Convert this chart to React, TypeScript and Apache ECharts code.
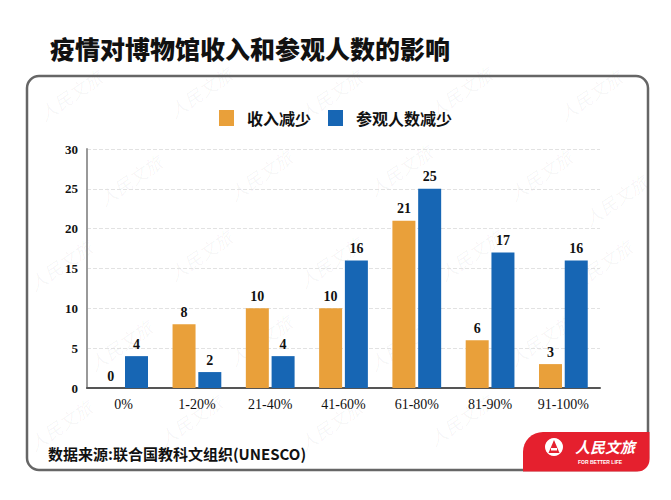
import React, { useEffect, useRef } from "react";
import * as echarts from "echarts";

const categories = ["0%", "1-20%", "21-40%", "41-60%", "61-80%", "81-90%", "91-100%"];
const revenueDecrease = [0, 8, 10, 10, 21, 6, 3];
const visitorDecrease = [4, 2, 4, 16, 25, 17, 16];
const seriesNames = ["收入减少", "参观人数减少"];
const titleText = "疫情对博物馆收入和参观人数的影响";
const sourceText = "数据来源:联合国教科文组织(UNESCO)";
const watermark = "人民文旅";

const ORANGE = "#E9A03A";
const BLUE = "#1766B4";
const SERIF = "Liberation Serif";
const CJK = "Noto Sans CJK SC";

const wmPositions: [number, number][] = [
  [70, 95], [200, 92], [330, 95], [460, 92], [590, 95],
  [130, 180], [260, 175], [400, 170], [540, 175], [615, 200],
  [60, 265], [200, 255], [330, 262], [470, 255], [600, 265],
  [120, 345], [260, 340], [400, 345], [540, 340],
  [60, 425], [190, 420], [330, 425], [460, 420],
];

export default function App() {
  const ref = useRef<HTMLDivElement>(null);
  useEffect(() => {
    if (!ref.current) return;
    const chart = echarts.init(ref.current, null, { renderer: "svg" });
    const wm = wmPositions.map(([x, y]) => ({
      type: "text",
      x,
      y,
      rotation: 0.6,
      z: 0,
      silent: true,
      style: {
        text: watermark,
        fill: "rgba(0,0,0,0.04)",
        fontStyle: "italic",
        fontSize: 18,
        fontFamily: CJK,
        textAlign: "center",
        textVerticalAlign: "middle",
      },
    }));
    const labelStyle = {
      show: true,
      position: "top",
      distance: 5,
      fontFamily: SERIF,
      fontWeight: "bold",
      fontSize: 14,
      color: "#111",
    };
    chart.setOption({
      animation: false,
      backgroundColor: "#fff",
      graphic: [
        ...wm,
        {
          type: "text",
          x: 50,
          y: 48,
          z: 10,
          style: {
            text: titleText,
            fill: "#111",
            fontWeight: 900,
            fontSize: 25,
            fontFamily: CJK,
            textVerticalAlign: "middle",
          },
        },
        {
          type: "rect",
          z: 5,
          shape: { x: 27, y: 76, width: 621, height: 394, r: 12 },
          style: { fill: "none", stroke: "#666", lineWidth: 2.5 },
        },
        {
          type: "rect",
          z: 6,
          shape: { x: 523, y: 432, width: 126.5, height: 39.5, r: [20, 0, 12, 0] },
          style: { fill: "#E5202E" },
        },
        {
          type: "circle",
          z: 7,
          shape: { cx: 554, cy: 447, r: 9 },
          style: { fill: "#fff" },
        },
        {
          type: "polygon",
          z: 8,
          shape: { points: [[554, 440], [559.5, 453], [548.5, 453]] },
          style: { fill: "#E5202E" },
        },
        {
          type: "rect",
          z: 9,
          shape: { x: 551, y: 448, width: 6, height: 2.5 },
          style: { fill: "#fff" },
        },
        {
          type: "text",
          x: 575,
          y: 446,
          z: 8,
          style: {
            text: watermark,
            fill: "#fff",
            fontStyle: "italic",
            fontWeight: "bold",
            fontSize: 15,
            fontFamily: CJK,
            textVerticalAlign: "middle",
          },
        },
        {
          type: "text",
          x: 578,
          y: 462,
          z: 8,
          style: {
            text: "FOR BETTER LIFE",
            fill: "#fff",
            fontWeight: "bold",
            fontSize: 5,
            fontFamily: "Liberation Sans",
            textVerticalAlign: "middle",
          },
        },
        {
          type: "text",
          x: 48,
          y: 453,
          z: 10,
          style: {
            text: sourceText,
            fill: "#111",
            fontWeight: "bold",
            fontSize: 15,
            fontFamily: CJK,
            textVerticalAlign: "middle",
          },
        },
      ],
      legend: {
        top: 105,
        left: "center",
        itemWidth: 15,
        itemHeight: 16,
        itemGap: 17,
        icon: "rect",
        textStyle: {
          fontFamily: CJK,
          fontWeight: "bold",
          fontSize: 16,
          color: "#111",
          padding: [0, 0, 0, 8],
        },
        data: seriesNames,
      },
      grid: { left: 87, right: 71, top: 149, bottom: 112, containLabel: false },
      xAxis: {
        type: "category",
        data: categories,
        axisLine: { lineStyle: { color: "#555", width: 2 } },
        axisTick: { show: false },
        axisLabel: {
          fontFamily: SERIF,
          fontSize: 14,
          color: "#111",
          margin: 9,
        },
      },
      yAxis: {
        type: "value",
        min: 0,
        max: 30,
        interval: 5,
        axisLine: { show: true, lineStyle: { color: "#999", width: 2 } },
        axisTick: { show: false },
        axisLabel: {
          fontFamily: SERIF,
          fontWeight: "bold",
          fontSize: 13,
          color: "#111",
          margin: 9,
        },
        splitLine: { lineStyle: { color: "#e2e2e2", type: "dashed", width: 1 } },
      },
      series: [
        {
          name: seriesNames[0],
          type: "bar",
          data: revenueDecrease,
          barWidth: 23,
          barGap: "12%",
          itemStyle: { color: ORANGE },
          label: labelStyle,
        },
        {
          name: seriesNames[1],
          type: "bar",
          data: visitorDecrease,
          barWidth: 23,
          barGap: "12%",
          itemStyle: { color: BLUE },
          label: labelStyle,
        },
      ],
    });
    return () => chart.dispose();
  }, []);
  return (
    <div
      ref={ref}
      style={{ position: "fixed", left: 0, top: 0, width: 671, height: 500, background: "#fff" }}
    />
  );
}
